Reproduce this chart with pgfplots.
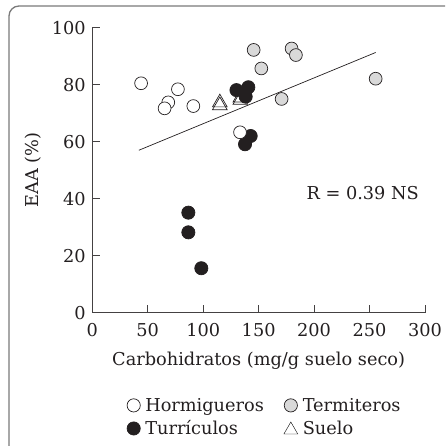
\documentclass[border=0pt]{standalone}
\usepackage{fontspec}
\setmainfont{DejaVu Serif}
\usepackage{pgfplots}
\pgfplotsset{compat=1.18}

\definecolor{ink}{HTML}{231F20}
\definecolor{termgray}{HTML}{D9D9D9}
\definecolor{framegray}{HTML}{7A7A7A}

\newcommand{\figfont}{\fontsize{17.8}{21}\selectfont}

\pgfplotsset{
  hormi/.style={only marks, mark=*, mark size=6.4bp,
    mark options={fill=white, draw=ink, line width=0.7bp}},
  termi/.style={only marks, mark=*, mark size=6.4bp,
    mark options={fill=termgray, draw=ink, line width=0.7bp}},
  turri/.style={only marks, mark=*, mark size=6.6bp,
    mark options={fill=ink, draw=ink, line width=0.7bp}},
  suelo/.style={only marks, mark=triangle, mark size=8.5bp,
    mark options={fill=white, draw=ink, line width=0.7bp}},
}

\begin{document}
\begin{tikzpicture}[x=1bp,y=1bp]
\useasboundingbox (-92.3,-133.3) rectangle (354.7,312.7);
% panel frame
\draw[framegray, line width=1.3bp] (-83.3,-133.3) -- (-83.3,296.7)
  arc[start angle=180, end angle=90, radius=10] -- (352.7,306.7);
\begin{axis}[
  at={(0,0)}, anchor=south west,
  scale only axis, width=332.7bp, height=285bp,
  xmin=0, xmax=300, ymin=0, ymax=100,
  axis line style={draw=none},
  xtick pos=bottom, ytick pos=left,
  xtick={0,50,...,300}, ytick={0,20,...,100},
  tick align=inside, major tick length=8bp,
  tick style={ink!85, line width=0.8bp},
  /pgf/number format/assume math mode=true,
  tick label style={font=\figfont, text=ink},
  xticklabel style={anchor=base, yshift=-24bp},
  yticklabel style={anchor=east, xshift=-3bp},
  label style={font=\figfont, text=ink},
  xlabel={Carbohidratos (mg/g suelo seco)},
  ylabel={EAA (\%)},
  xlabel style={at={(axis description cs:0.5,-0.1695)}, anchor=center},
  ylabel style={at={(axis description cs:-0.1773,0.5)}, anchor=center, rotate=0},
  clip=false,
  legend columns=2,
  legend cell align=left,
  legend style={at={(0.095,-0.285)}, anchor=north west, draw=none, fill=none,
    font=\figfont, text=ink, row sep=4bp,
    /tikz/every odd column/.append style={column sep=3bp},
    /tikz/every even column/.append style={column sep=18bp}},
  legend image code/.code={\draw[#1] plot coordinates {(5bp,0bp)};},
]
% axis lines on the left and bottom only
\draw[ink!85, line width=0.8bp] (rel axis cs:0,1) -- (rel axis cs:0,0) -- (rel axis cs:1,0);

\addlegendimage{hormi, mark size=6.6bp}
\addlegendentry{Hormigueros}
\addlegendimage{termi, mark size=6.6bp}
\addlegendentry{Termiteros}
\addlegendimage{turri}
\addlegendentry{Turrículos}
\addlegendimage{suelo, mark size=8bp, mark options={yshift=-1.5bp}}
\addlegendentry{Suelo}

% fitted line
\addplot[ink, line width=0.7bp, forget plot] coordinates {(42,57.0) (255.5,91.3)};

% Suelo
\addplot[suelo, forget plot] coordinates {
  (115,73.7) (115,72.7) (133.5,75.4) (133.5,74.6)};
% Turriculos
\addplot[turri, forget plot] coordinates {
  (130.0,78.1) (140.7,79.1) (138.3,75.8) (142.8,62.0) (137.7,59.1)
  (86.6,35.1) (86.6,28.2) (98.3,15.6)};
% Hormigueros
\addplot[hormi, forget plot] coordinates {
  (44.0,80.5) (77.2,78.4) (68.5,73.8) (65.2,71.7) (91.1,72.5) (133.2,63.3)};
% Termiteros
\addplot[termi, forget plot] coordinates {
  (145.5,92.2) (179.7,92.7) (183.6,90.4) (152.4,85.7) (170.7,75.0) (255.5,82.1)};

\node[font=\figfont, text=ink] at (axis cs:243.8,42.1) {R = 0.39 NS};
\end{axis}
\end{tikzpicture}
\end{document}
